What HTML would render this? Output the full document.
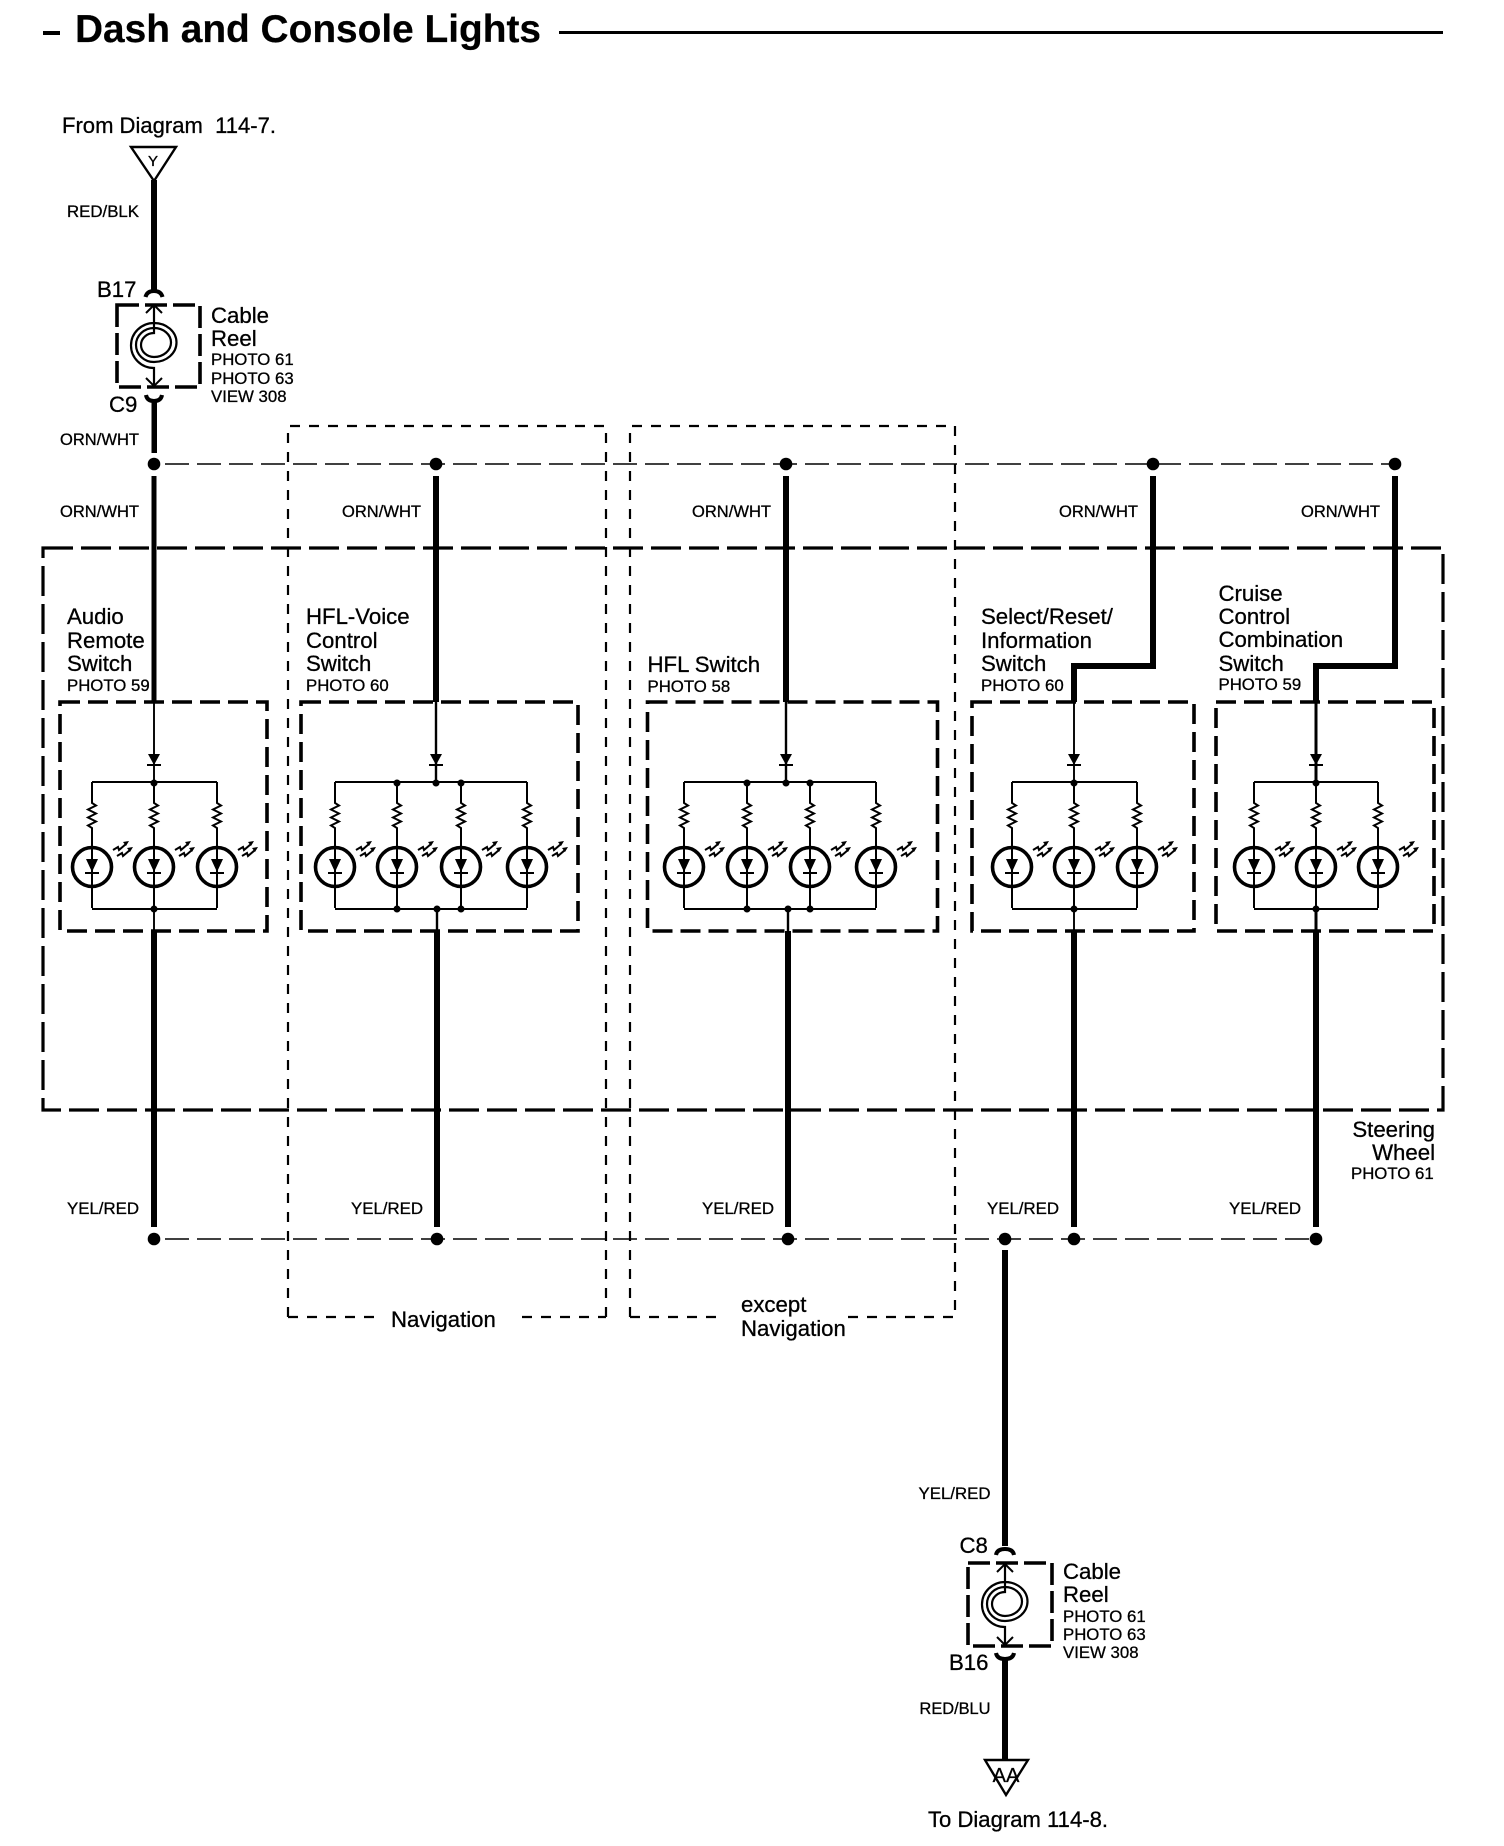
<!DOCTYPE html>
<html lang="en">
<head>
<meta charset="utf-8">
<title>Dash and Console Lights</title>
<style>
html,body{margin:0;padding:0;background:#fff;}
svg{display:block;}
text{font-family:"Liberation Sans",sans-serif;fill:#000;stroke:#000;stroke-width:.3px;}
.t{font-size:38.7px;font-weight:bold;stroke-width:.2px;}
.l{font-size:22.200px;}
.s{font-size:16.800px;}
.n{fill:none;stroke:#000;}
</style>
</head>
<body>
<svg xmlns="http://www.w3.org/2000/svg" width="1504" height="1846" viewBox="0 0 1504 1846">
<defs>
  <g id="led">
    <path class="n" stroke-width="2" d="M0,782V803l4,2.500-8,4 8,4-8,4 8,4-8,4 4,2.500V908"/>
    <circle class="n" cx="0" cy="867" r="19.500" stroke-width="3.600"/>
    <path d="M-6,859H6L0,872Z" fill="#000"/>
    <path class="n" stroke-width="2" d="M-7,873H7"/>
    <path class="n" stroke-width="2" d="M21,850l5-3 1,3 7-6M25,856l5-3 1,3 7-6"/>
    <path d="M37,841l-6,1 3,4ZM41,847l-6,1 3,4Z" fill="#000"/>
  </g>
  <g id="diode">
    <path d="M-6,754H6L0,765Z" fill="#000"/>
    <path class="n" stroke-width="2" d="M-7,765H7"/>
  </g>
  <g id="reel">
    <path class="n" stroke-width="2.200" d="M0,-40V-12A13,12 0 0 0 0,12A17,14.500 0 0 0 0,-17A18,17 0 0 0 0,17A22.500,19.500 0 0 0 0,-22A23,22.500 0 0 0 0,23V41"/>
    <path class="n" stroke-width="2" d="M-8,-32L0,-40L8,-32M-8,33L0,41L8,33"/>
  </g>
</defs>

<!-- Title -->
<rect x="43" y="31" width="17" height="4" fill="#000"/>
<text class="t" x="75" y="42" textLength="466" lengthAdjust="spacingAndGlyphs">Dash and Console Lights</text>
<rect x="559" y="31" width="884" height="3" fill="#000"/>

<!-- Navigation boxes -->
<g class="n" stroke-width="2.200" stroke-dasharray="10 9">
  <path d="M288,1317V426H606V1317"/>
  <path d="M630,1317V426H955V1317"/>
  <path d="M288,1317H378M522,1317H606"/>
  <path d="M630,1317H720M848,1317H955"/>
</g>

<!-- Steering wheel box -->
<rect class="n" x="43" y="548" width="1400" height="562" stroke-width="3.200" stroke-dasharray="30 8"/>

<!-- Top reel -->
<text class="l" x="62" y="133" textLength="214" lengthAdjust="spacingAndGlyphs">From Diagram&#160;&#160;114-7.</text>
<path class="n" stroke-width="2.400" d="M131,147H176L154,181Z"/>
<text x="153" y="166" font-size="15" text-anchor="middle">Y</text>
<rect x="151" y="180" width="6" height="112" fill="#000"/>
<path class="n" stroke-width="4" d="M145.500,297Q147,291 154,291Q161,291 162.500,297"/>
<text class="s" x="67" y="217" textLength="72" lengthAdjust="spacingAndGlyphs">RED/BLK</text>
<text class="l" x="97" y="297">B17</text>
<rect class="n" x="117" y="305" width="83" height="82" stroke-width="3.600" stroke-dasharray="22 6"/>
<use href="#reel" transform="translate(154,345)"/>
<path class="n" stroke-width="4" d="M146,395Q147,401 154,401Q161,401 162,395"/>
<rect x="151.500" y="400" width="5.500" height="53" fill="#000"/>
<text class="l" x="109" y="412">C9</text>
<text class="l" x="211" y="323">Cable</text>
<text class="l" x="211" y="346">Reel</text>
<text class="s" x="211" y="365">PHOTO 61</text>
<text class="s" x="211" y="384">PHOTO 63</text>
<text class="s" x="211" y="402">VIEW 308</text>
<text class="s" x="60" y="445" textLength="79" lengthAdjust="spacingAndGlyphs">ORN/WHT</text>

<!-- Top bus -->
<path class="n" stroke-width="1.600" stroke-dasharray="24 8" d="M165,464H1390"/>
<g fill="#000">
  <circle cx="154" cy="464" r="6.300"/><circle cx="436" cy="464" r="6.300"/><circle cx="786" cy="464" r="6.300"/><circle cx="1153" cy="464" r="6.300"/><circle cx="1395" cy="464" r="6.300"/>
</g>
<text class="s" x="60" y="517" textLength="79" lengthAdjust="spacingAndGlyphs">ORN/WHT</text>
<text class="s" x="342" y="517" textLength="79" lengthAdjust="spacingAndGlyphs">ORN/WHT</text>
<text class="s" x="692" y="517" textLength="79" lengthAdjust="spacingAndGlyphs">ORN/WHT</text>
<text class="s" x="1059" y="517" textLength="79" lengthAdjust="spacingAndGlyphs">ORN/WHT</text>
<text class="s" x="1301" y="517" textLength="79" lengthAdjust="spacingAndGlyphs">ORN/WHT</text>

<!-- Feed wires -->
<g fill="#000">
  <rect x="151.500" y="476" width="5" height="226"/>
  <rect x="433" y="476" width="6" height="226"/>
  <rect x="783" y="476" width="6" height="226"/>
  <rect x="1150" y="476" width="6" height="190"/>
  <rect x="1071" y="663" width="85" height="6"/>
  <rect x="1071" y="663" width="6" height="39"/>
  <rect x="1392" y="476" width="6" height="190"/>
  <rect x="1313" y="663" width="85" height="6"/>
  <rect x="1313" y="663" width="6" height="39"/>
</g>

<!-- Switch boxes -->
<g class="n" stroke-width="3.600" stroke-dasharray="20 8">
  <rect x="60" y="702" width="207" height="229"/>
  <rect x="301" y="702" width="277" height="229"/>
  <rect x="647.500" y="702" width="290" height="229"/>
  <rect x="972" y="702" width="222" height="229"/>
  <rect x="1216" y="702" width="218" height="229"/>
</g>

<!-- Rails -->
<g class="n" stroke-width="1.900">
  <path d="M92,782H217M92,909H217"/>
  <path d="M335,782H527M335,909H527"/>
  <path d="M684,782H876M684,909H876"/>
  <path d="M1012,782H1137M1012,909H1137"/>
  <path d="M1254,782H1378M1254,909H1378"/>
  <path d="M154,702V782M154,909V931"/>
  <path stroke-width="2.400" d="M436,702V782M437,909V931"/>
  <path stroke-width="2.400" d="M786,702V782M788,909V931"/>
  <path d="M1074,702V782M1074,909V931"/>
  <path stroke-width="3" d="M1316,702V782M1316,909V931"/>
</g>

<!-- Diodes -->
<use href="#diode" x="154"/><use href="#diode" x="436"/><use href="#diode" x="786"/><use href="#diode" x="1074"/><use href="#diode" x="1316"/>

<!-- LED branches -->
<use href="#led" x="92"/><use href="#led" x="154"/><use href="#led" x="217"/>
<use href="#led" x="335"/><use href="#led" x="397"/><use href="#led" x="461"/><use href="#led" x="527"/>
<use href="#led" x="684"/><use href="#led" x="747"/><use href="#led" x="810"/><use href="#led" x="876"/>
<use href="#led" x="1012"/><use href="#led" x="1074"/><use href="#led" x="1137"/>
<use href="#led" x="1254"/><use href="#led" x="1316"/><use href="#led" x="1378"/>

<!-- Rail junctions -->
<g fill="#000">
  <circle cx="154" cy="783" r="3.500"/><circle cx="154" cy="909" r="3.500"/>
  <circle cx="397" cy="783" r="3.500"/><circle cx="436" cy="783" r="3.500"/><circle cx="461" cy="783" r="3.500"/>
  <circle cx="397" cy="909" r="3.500"/><circle cx="437" cy="909" r="3.500"/><circle cx="461" cy="909" r="3.500"/>
  <circle cx="747" cy="783" r="3.500"/><circle cx="786" cy="783" r="3.500"/><circle cx="810" cy="783" r="3.500"/>
  <circle cx="747" cy="909" r="3.500"/><circle cx="788" cy="909" r="3.500"/><circle cx="810" cy="909" r="3.500"/>
  <circle cx="1074" cy="783" r="3.500"/><circle cx="1074" cy="909" r="3.500"/>
  <circle cx="1316" cy="783" r="3.500"/><circle cx="1316" cy="909" r="3.500"/>
</g>

<!-- Switch labels -->
<text class="l" x="67" y="624">Audio</text>
<text class="l" x="67" y="648">Remote</text>
<text class="l" x="67" y="671">Switch</text>
<text class="s" x="67" y="691">PHOTO 59</text>
<text class="l" x="306" y="624">HFL-Voice</text>
<text class="l" x="306" y="648">Control</text>
<text class="l" x="306" y="671">Switch</text>
<text class="s" x="306" y="691">PHOTO 60</text>
<text class="l" x="647.500" y="672">HFL Switch</text>
<text class="s" x="647.500" y="692">PHOTO 58</text>
<text class="l" x="981" y="624">Select/Reset/</text>
<text class="l" x="981" y="648">Information</text>
<text class="l" x="981" y="671">Switch</text>
<text class="s" x="981" y="691">PHOTO 60</text>
<text class="l" x="1218.500" y="601">Cruise</text>
<text class="l" x="1218.500" y="624">Control</text>
<text class="l" x="1218.500" y="647">Combination</text>
<text class="l" x="1218.500" y="671">Switch</text>
<text class="s" x="1218.500" y="690">PHOTO 59</text>
<text class="l" x="1435" y="1137" text-anchor="end">Steering</text>
<text class="l" x="1435" y="1160" text-anchor="end">Wheel</text>
<text class="s" x="1351" y="1179">PHOTO 61</text>

<!-- Return wires -->
<g fill="#000">
  <rect x="151" y="931" width="6" height="296"/>
  <rect x="434" y="931" width="6" height="296"/>
  <rect x="785" y="931" width="6" height="296"/>
  <rect x="1071" y="931" width="6" height="296"/>
  <rect x="1313" y="931" width="6" height="296"/>
  <rect x="1002" y="1250" width="6" height="296"/>
</g>

<!-- Bottom bus -->
<path class="n" stroke-width="1.600" stroke-dasharray="24 8" d="M165,1239H1310"/>
<g fill="#000">
  <circle cx="154" cy="1239" r="6.300"/><circle cx="437" cy="1239" r="6.300"/><circle cx="788" cy="1239" r="6.300"/><circle cx="1005" cy="1239" r="6.300"/><circle cx="1074" cy="1239" r="6.300"/><circle cx="1316" cy="1239" r="6.300"/>
</g>
<text class="s" x="67" y="1214" textLength="72" lengthAdjust="spacingAndGlyphs">YEL/RED</text>
<text class="s" x="351" y="1214" textLength="72" lengthAdjust="spacingAndGlyphs">YEL/RED</text>
<text class="s" x="702" y="1214" textLength="72" lengthAdjust="spacingAndGlyphs">YEL/RED</text>
<text class="s" x="987" y="1214" textLength="72" lengthAdjust="spacingAndGlyphs">YEL/RED</text>
<text class="s" x="1229" y="1214" textLength="72" lengthAdjust="spacingAndGlyphs">YEL/RED</text>

<text class="l" x="391" y="1327">Navigation</text>
<text class="l" x="741" y="1312">except</text>
<text class="l" x="741" y="1336">Navigation</text>

<!-- Bottom reel -->
<text class="s" x="918.500" y="1499" textLength="72" lengthAdjust="spacingAndGlyphs">YEL/RED</text>
<text class="l" x="959.500" y="1553">C8</text>
<path class="n" stroke-width="4" d="M996,1555Q997,1549 1005,1549Q1013,1549 1014,1555"/>
<rect class="n" x="968" y="1563" width="84" height="83" stroke-width="3.600" stroke-dasharray="22 6"/>
<use href="#reel" transform="translate(1005,1604)"/>
<path class="n" stroke-width="4" d="M996,1653Q997,1659 1005,1659Q1013,1659 1014,1653"/>
<rect x="1002" y="1658" width="6" height="103" fill="#000"/>
<text class="l" x="949" y="1670">B16</text>
<text class="l" x="1063" y="1579">Cable</text>
<text class="l" x="1063" y="1602">Reel</text>
<text class="s" x="1063" y="1622">PHOTO 61</text>
<text class="s" x="1063" y="1640">PHOTO 63</text>
<text class="s" x="1063" y="1658">VIEW 308</text>
<text class="s" x="919.500" y="1714" textLength="71" lengthAdjust="spacingAndGlyphs">RED/BLU</text>
<path class="n" stroke-width="2.400" d="M985,1760H1028L1006,1795Z"/>
<text x="1006" y="1782" font-size="20" text-anchor="middle">AA</text>
<text class="l" x="928" y="1827" textLength="180" lengthAdjust="spacingAndGlyphs">To Diagram 114-8.</text>
</svg>
</body>
</html>
